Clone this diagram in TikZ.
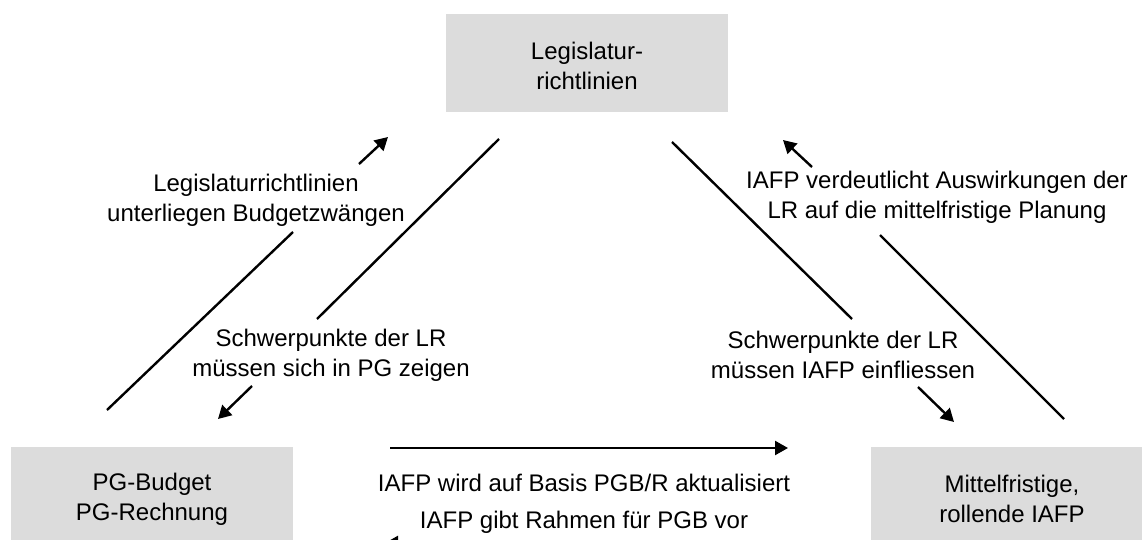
\documentclass[tikz,border=0pt]{standalone}
\usepackage{fontspec}
\setmainfont{Liberation Sans}
\usetikzlibrary{arrows.meta}
\definecolor{boxgray}{HTML}{DCDCDC}
\definecolor{lineink}{HTML}{000000}

\begin{document}
\begin{tikzpicture}[x=0.5pt, y=-0.5pt, >={Triangle[length=6.5pt, width=7pt]},
                    every node/.style={font=\fontsize{12}{15}\selectfont, align=center},
                    stage/.style={fill=boxgray, minimum width=141pt, inner sep=0pt},
                    link/.style={lineink, line width=1.2pt}]

  %% Rahmen des Bildes
  \useasboundingbox (0,0) rectangle (1142,540);
  \clip (0,0) rectangle (1142,540);

  %% die drei Planungsebenen
  \node[stage, minimum height=49pt] (lr) at (587,63) {};
  \node at (587,66) {Legislatur-\\richtlinien};
  \node[stage, minimum height=52pt] (pg) at (152,499) {PG-Budget\\PG-Rechnung};
  \node[stage, minimum height=52pt] (iafp) at (1012,499) {Mittelfristige,\\rollende IAFP};

  %% Beschriftungen der Verbindungen
  \node (lblA) at (256,200) {Legislaturrichtlinien\\unterliegen Budgetzwängen};
  \node (lblB) at (331,355) {Schwerpunkte der LR\\müssen sich in PG zeigen};
  \node (lblC) at (843,355) {Schwerpunkte der LR\\müssen IAFP einfliessen};
  \node (lblD) at (937,197) {IAFP verdeutlicht Auswirkungen der\\LR auf die mittelfristige Planung};
  \node (lblE) at (584,483) {IAFP wird auf Basis PGB/R aktualisiert};
  \node (lblF) at (584,522) {IAFP gibt Rahmen für PGB vor};

  %% Endpunkte der Linien
  \coordinate (a1) at (107,410);  \coordinate (a2) at (293,232);
  \coordinate (a3) at (359,164);  \coordinate (a4) at (388,137);
  \coordinate (b1) at (499,139);  \coordinate (b2) at (317,319);
  \coordinate (b3) at (252,386);  \coordinate (b4) at (218,419);
  \coordinate (c1) at (672,142);  \coordinate (c2) at (852,319);
  \coordinate (c3) at (918,387);  \coordinate (c4) at (954,422);
  \coordinate (d1) at (1064,419); \coordinate (d2) at (880,235);
  \coordinate (d3) at (812,167);  \coordinate (d4) at (783,140);
  \coordinate (e1) at (390,448);  \coordinate (e2) at (788,448);
  \coordinate (f1) at (788,543);  \coordinate (f2) at (385,543);

  %% PG -> LR
  \draw[link] (a1) -- (a2);
  \draw[link, ->] (a3) -- (a4);

  %% LR -> PG
  \draw[link] (b1) -- (b2);
  \draw[link, ->] (b3) -- (b4);

  %% LR -> IAFP
  \draw[link] (c1) -- (c2);
  \draw[link, ->] (c3) -- (c4);

  %% IAFP -> LR
  \draw[link] (d1) -- (d2);
  \draw[link, ->] (d3) -- (d4);

  %% zwischen PG und IAFP
  \draw[link, ->] (e1) -- (e2);
  \draw[link, ->] (f1) -- (f2);

\end{tikzpicture}
\end{document}
